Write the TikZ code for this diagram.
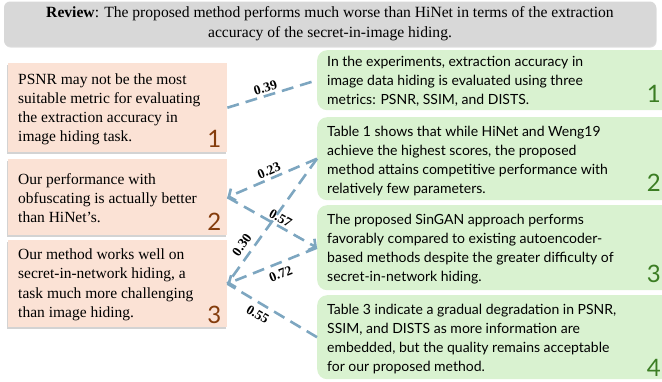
\documentclass[tikz,border=0pt]{standalone}
\usepackage{fontspec}
\setmainfont{Liberation Serif}
\newfontfamily\rfont{Lato}
\usetikzlibrary{arrows.meta,shadows}
\definecolor{revgray}{RGB}{216,216,216}
\definecolor{lboxc}{RGB}{251,226,213}
\definecolor{rboxc}{RGB}{217,242,208}
\definecolor{lnumc}{RGB}{132,60,12}
\definecolor{rnumc}{RGB}{59,125,35}
\definecolor{connc}{RGB}{125,166,192}
\begin{document}
\begin{tikzpicture}[x=1pt,y=-1pt,
  revst/.style={fill=revgray, rounded corners=6pt, minimum width=652pt, minimum height=45pt,
    align=center, inner sep=0pt, font=\fontsize{15.6}{20}\selectfont,
    drop shadow={shadow xshift=0.5pt, shadow yshift=-1pt, opacity=0.25}},
  lboxst/.style={fill=lboxc, anchor=north west, minimum width=219pt, inner sep=0pt,
    drop shadow={shadow xshift=-1.5pt, shadow yshift=-2pt, opacity=0.35}},
  ltext/.style={anchor=west, align=left, inner sep=0pt, font=\fontsize{15.5}{19.2}\selectfont},
  lnum/.style={anchor=south east, inner sep=0pt, text=lnumc, font=\rfont\fontsize{24}{24}\selectfont},
  rboxst/.style={fill=rboxc, anchor=north west, minimum width=360pt, inner sep=0pt, rounded corners=10pt},
  rtext/.style={anchor=north west, align=left, inner sep=0pt, font=\rfont\fontsize{14}{19}\selectfont},
  rnum/.style={anchor=south east, inner sep=0pt, text=rnumc, font=\rfont\fontsize{24}{24}\selectfont},
  conn/.style={draw=connc, line width=2.6pt, dash pattern=on 12pt off 7pt},
  barbtip/.style={-{Straight Barb[length=5pt,width=13pt]}},
  lab/.style={font=\bfseries\fontsize{13.5}{13.5}\selectfont, inner sep=2pt}]
\useasboundingbox (0,0) rectangle (662,381);
% review
\node[revst] (rev) at (330,24) {\textbf{Review}: The proposed method performs much worse than HiNet in terms of the extraction\\accuracy of the secret-in-image hiding.};
% left boxes
\node[lboxst, minimum height=89pt] (L1) at (8,63) {};
\node[ltext] (L1t) at ([xshift=10pt,yshift=-1.5pt]L1.west) {PSNR may not be the most\\suitable metric for evaluating\\the extraction accuracy in\\image hiding task.};
\node[lnum] (L1n) at ([xshift=-6pt,yshift=5pt]L1.south east) {1};
\node[lboxst, minimum height=76pt] (L2) at (8,159) {};
\node[ltext] (L2t) at ([xshift=10pt,yshift=-1pt]L2.west) {Our performance with\\obfuscating is actually better\\than HiNet’s.};
\node[lnum] (L2n) at ([xshift=-6pt,yshift=5pt]L2.south east) {2};
\node[lboxst, minimum height=87pt] (L3) at (8,240) {};
\node[ltext] (L3t) at ([xshift=10pt,yshift=-1pt]L3.west) {Our method works well on\\secret-in-network hiding, a\\task much more challenging\\than image hiding.};
\node[lnum] (L3n) at ([xshift=-6pt,yshift=4pt]L3.south east) {3};
% right boxes
\node[rboxst, minimum height=60pt] (R1) at (317,50) {};
\node[rtext] (R1t) at ([xshift=10pt,yshift=-6pt]R1.north west) {In the experiments, extraction accuracy in\\image data hiding is evaluated using three\\metrics: PSNR, SSIM, and DISTS.};
\node[rnum] (R1n) at (661,103) {1};
\node[rboxst, minimum height=83pt] (R2) at (317,117) {};
\node[rtext] (R2t) at ([xshift=10pt,yshift=-9pt]R2.north west) {Table 1 shows that while HiNet and Weng19\\achieve the highest scores, the proposed\\method attains competitive performance with\\relatively few parameters.};
\node[rnum] (R2n) at (661,192) {2};
\node[rboxst, minimum height=85pt] (R3) at (317,205) {};
\node[rtext] (R3t) at ([xshift=10pt,yshift=-9pt]R3.north west) {The proposed SinGAN approach performs\\favorably compared to existing autoencoder-\\based methods despite the greater difficulty of\\secret-in-network hiding.};
\node[rnum] (R3n) at (661,283) {3};
\node[rboxst, minimum height=84pt] (R4) at (317,295) {};
\node[rtext] (R4t) at ([xshift=10pt,yshift=-9pt]R4.north west) {Table 3 indicate a gradual degradation in PSNR,\\SSIM, and DISTS as more information are\\embedded, but the quality remains acceptable\\for our proposed method.};
\node[rnum] (R4n) at (661,377) {4};
% connectors
\draw[conn] (L1.east) -- node[lab, above, sloped, pos=0.45] {0.39} (R1.west);
\draw[conn, barbtip] (R2.west) -- node[lab, above, sloped, pos=0.5] {0.23} (L2.east);
\draw[conn, barbtip] (L2.east) -- node[lab, above, sloped, pos=0.55] {0.57} (R3.west);
\draw[conn] (R2.west) -- node[lab, above=3pt, sloped, pos=0.74] {0.30} (L3.east);
\draw[conn, barbtip] (R3.west) -- node[lab, below=3pt, sloped, pos=0.45] {0.72} (L3.east);
\draw[conn] (R4.west) -- node[lab, below=3pt, sloped, pos=0.6] {0.55} (L3.east);
\end{tikzpicture}
\end{document}
